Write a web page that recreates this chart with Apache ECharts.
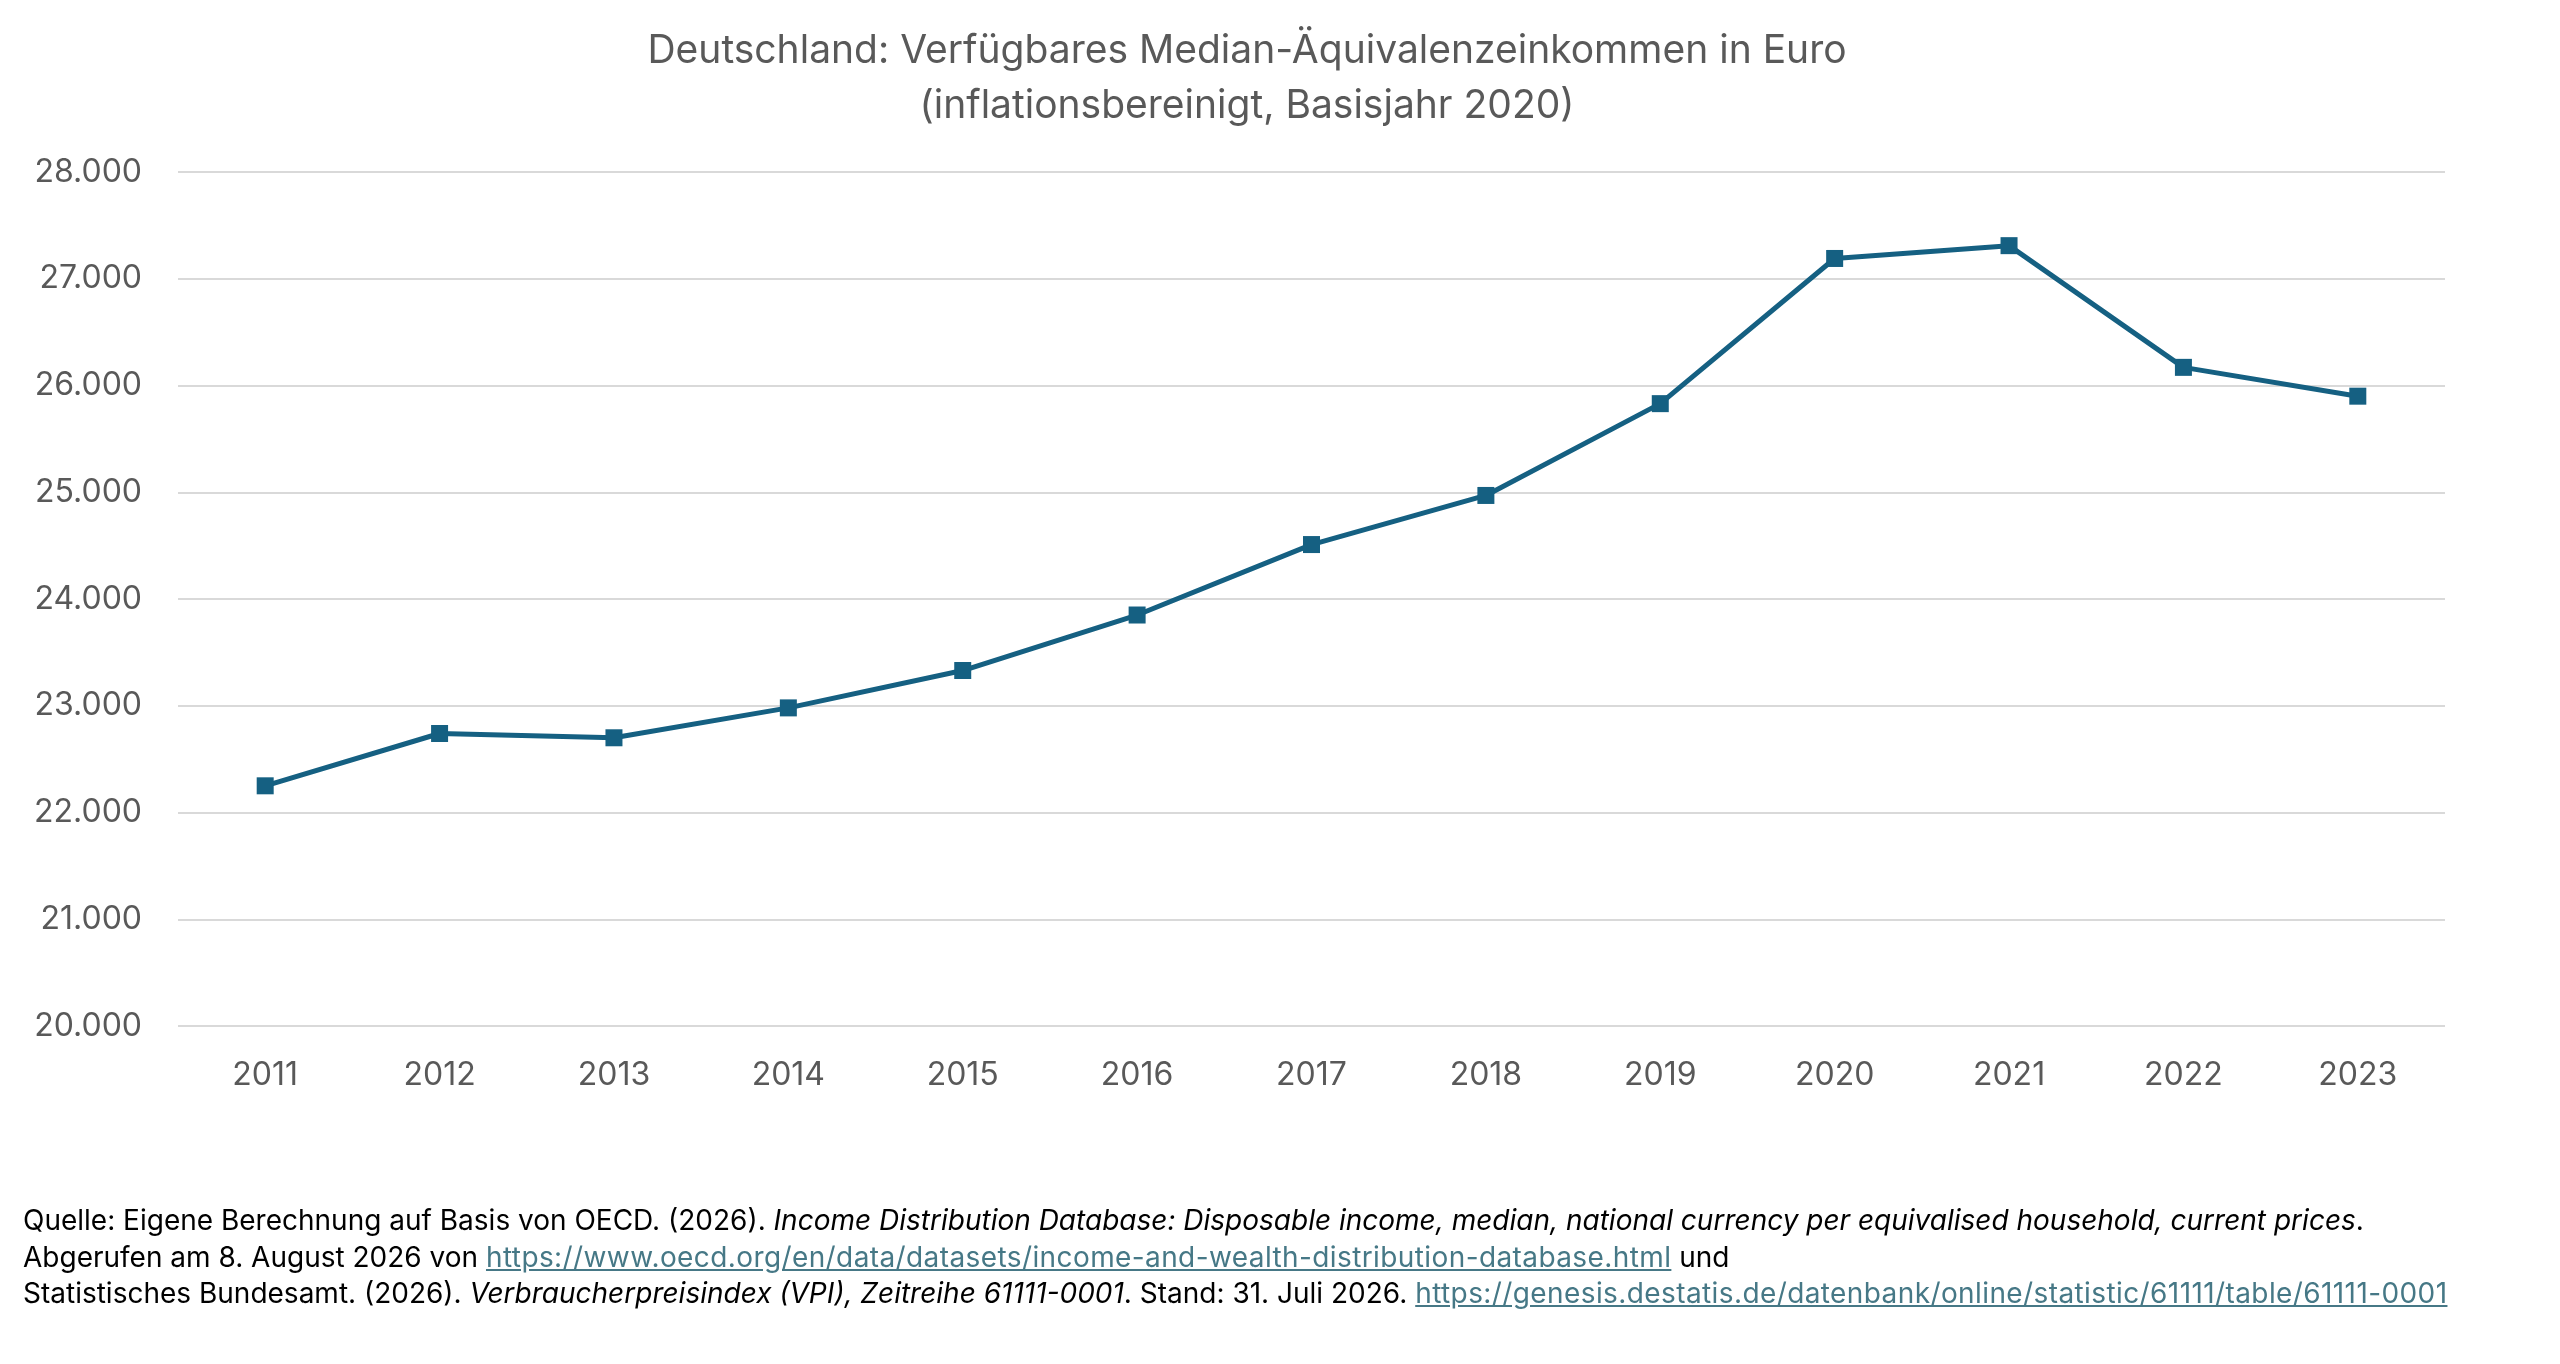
<!DOCTYPE html>
<html>
<head>
<meta charset="utf-8">
<script src="https://cdn.jsdelivr.net/npm/echarts@6/dist/echarts.min.js"></script>
<style>
    html, body { margin: 0; padding: 0; background: #fff; }
    #chart { width: 2560px; height: 1364px; }
    #quelle {
        position: absolute; left: 23px; top: 1202px;
        font-family: Inter, "Liberation Sans", sans-serif;
        font-size: 28px; line-height: 36.5px; color: #000; white-space: nowrap;
    }
    #quelle a { color: #467886; text-decoration: underline; letter-spacing: 0.4px; }
</style>
</head>
<body>
<div id="chart"></div>
<div id="quelle">
    Quelle: Eigene Berechnung auf Basis von OECD. (2026). <i>Income Distribution Database: Disposable income, median, national currency per equivalised household, current prices</i>.<br>
    Abgerufen am 8. August 2026 von <a href="#">https://www.oecd.org/en/data/datasets/income-and-wealth-distribution-database.html</a> und<br>
    Statistisches Bundesamt. (2026). <i>Verbraucherpreisindex (VPI), Zeitreihe 61111-0001</i>. Stand: 31. Juli 2026. <a href="#">https://genesis.destatis.de/datenbank/online/statistic/61111/table/61111-0001</a>
</div>
<script type="text/javascript">
    var jahre = ['2011', '2012', '2013', '2014', '2015', '2016', '2017', '2018', '2019', '2020', '2021', '2022', '2023'];
    var einkommen = [22250, 22740, 22700, 22980, 23330, 23850, 24510, 24970, 25830, 27190, 27310, 26170, 25900];
    var titelZeilen = ['Deutschland: Verfügbares Median-Äquivalenzeinkommen in Euro', '(inflationsbereinigt, Basisjahr 2020)'];

    var schrift = 'Inter, "Liberation Sans", sans-serif';
    var grau = '#595959';

    function tausender(v) {
        return String(v).replace(/\B(?=(\d{3})+(?!\d))/g, '.');
    }

    var chart = echarts.init(document.getElementById('chart'));
    var option = {
        animation: false,
        textStyle: {fontFamily: schrift},
        graphic: [
            {
                type: 'text', x: 1247, y: 51,
                style: {text: titelZeilen[0], fill: grau, font: '39px ' + schrift, textAlign: 'center', textVerticalAlign: 'middle'}
            },
            {
                type: 'text', x: 1247, y: 106,
                style: {text: titelZeilen[1], fill: grau, font: '39px ' + schrift, textAlign: 'center', textVerticalAlign: 'middle'}
            }
        ],
        grid: {left: 178, right: 115, top: 172, bottom: 338, containLabel: false},
        xAxis: {
            type: 'category',
            data: jahre,
            boundaryGap: true,
            axisLine: {show: false},
            axisTick: {show: false},
            axisLabel: {color: grau, fontSize: 32, margin: 33, fontFamily: schrift}
        },
        yAxis: {
            type: 'value',
            min: 20000,
            max: 28000,
            interval: 1000,
            axisLine: {show: false},
            axisTick: {show: false},
            axisLabel: {color: grau, fontSize: 32, margin: 36, fontFamily: schrift, formatter: tausender},
            splitLine: {lineStyle: {color: '#D9D9D9', width: 2}}
        },
        series: [{
            type: 'line',
            data: einkommen,
            symbol: 'rect',
            symbolSize: 17,
            showAllSymbol: true,
            lineStyle: {color: '#156082', width: 5},
            itemStyle: {color: '#156082'},
            emphasis: {disabled: true}
        }]
    };
    chart.setOption(option);
</script>
</body>
</html>
